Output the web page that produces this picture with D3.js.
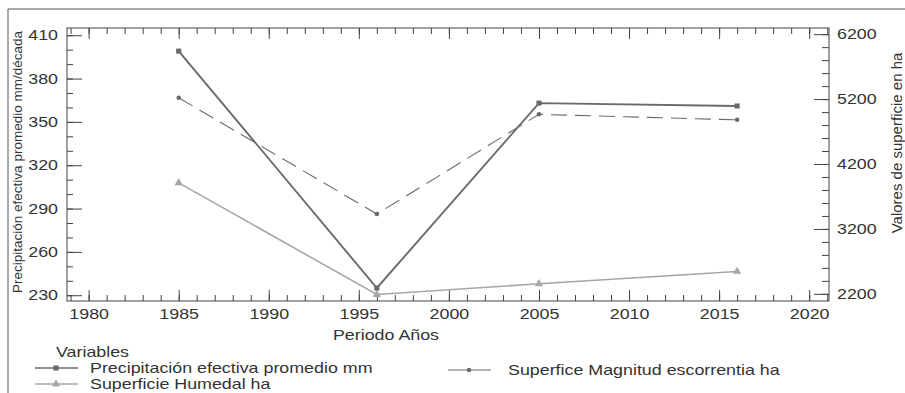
<!DOCTYPE html>
<html>
<head>
<meta charset="utf-8">
<script src="https://cdn.jsdelivr.net/npm/d3@7"></script>
<style>
  body { margin: 0; background: #fff; }
  svg { display: block; font-family: "Liberation Sans", Arial, sans-serif; }
</style>
</head>
<body>
<svg id="vis" width="905" height="393"></svg>
<script>
// data
var years = [1985, 1996, 2005, 2016];
var precip = [399, 235, 363, 361];          // left axis, mm
var escorrentia = [5220, 3430, 4965, 4880]; // right axis, ha
var humedal = [3910, 2190, 2355, 2545];     // right axis, ha

var xTicks = [1980, 1985, 1990, 1995, 2000, 2005, 2010, 2015, 2020];
var leftTicks = [230, 260, 290, 320, 350, 380, 410];
var rightTicks = [2200, 3200, 4200, 5200, 6200];

var legendItems = ["Precipitación efectiva promedio mm", "Superficie Humedal ha", "Superfice Magnitud escorrentia ha"];

var dark = "#6a6a6a", light = "#a6a6a6", txt = "#333";
var fs = "14.5px";

var svg = d3.select("#vis");
var plot = {left: 67, right: 829, top: 28, bottom: 301};

var x = d3.scaleLinear().domain([1978.8, 2021.1]).range([plot.left, plot.right]);
var yL = d3.scaleLinear().domain([226, 415]).range([plot.bottom, plot.top]);
var yR = d3.scaleLinear().domain([2090, 6295]).range([plot.bottom, plot.top]);

// outer frame (top + left)
svg.append("line").attr("x1", 8).attr("x2", 905).attr("y1", 9).attr("y2", 9)
    .attr("stroke", "#555").attr("stroke-width", 1);
svg.append("line").attr("x1", 8).attr("x2", 8).attr("y1", 9).attr("y2", 393)
    .attr("stroke", "#555").attr("stroke-width", 1);

// plot box
svg.append("rect").attr("x", plot.left).attr("y", plot.top)
    .attr("width", plot.right - plot.left).attr("height", plot.bottom - plot.top)
    .attr("fill", "none").attr("stroke", "#444").attr("stroke-width", 1);

function drawAxis(g) {
    g.select(".domain").remove();
    g.selectAll("line").attr("stroke", "#444");
    g.selectAll("text").attr("fill", txt).style("font-size", fs).classed("wide", true);
}

// minor ticks (inside)
var minorYears = d3.range(1979, 2022);
svg.append("g").attr("transform", "translate(0," + plot.bottom + ")")
    .call(d3.axisBottom(x).tickValues(minorYears).tickSize(-6).tickFormat(""))
    .call(drawAxis);
svg.append("g").attr("transform", "translate(0," + plot.top + ")")
    .call(d3.axisTop(x).tickValues(minorYears).tickSize(-6).tickFormat(""))
    .call(drawAxis);
svg.append("g").attr("transform", "translate(" + plot.left + ",0)")
    .call(d3.axisLeft(yL).tickValues(d3.range(230, 415, 10)).tickSize(-6).tickFormat(""))
    .call(drawAxis);
svg.append("g").attr("transform", "translate(" + plot.right + ",0)")
    .call(d3.axisRight(yR).tickValues(d3.range(2200, 6300, 200)).tickSize(-7).tickFormat(""))
    .call(drawAxis);

// major ticks + labels
svg.append("g").attr("transform", "translate(0," + plot.bottom + ")")
    .call(d3.axisBottom(x).tickValues(xTicks).tickSize(-11).tickPadding(8).tickFormat(d3.format("d")))
    .call(drawAxis);
svg.append("g").attr("transform", "translate(0," + plot.top + ")")
    .call(d3.axisTop(x).tickValues(xTicks).tickSize(-11).tickFormat(""))
    .call(drawAxis);
svg.append("g").attr("transform", "translate(" + plot.left + ",0)")
    .call(d3.axisLeft(yL).tickValues(leftTicks).tickSize(-15).tickPadding(9).tickFormat(d3.format("d")))
    .call(drawAxis);
svg.append("g").attr("transform", "translate(" + plot.right + ",0)")
    .call(d3.axisRight(yR).tickValues(rightTicks).tickSize(-15).tickPadding(8).tickFormat(d3.format("d")))
    .call(drawAxis);

// axis titles
svg.append("text").attr("class", "wide").attr("x", 386).attr("y", 340).attr("text-anchor", "middle")
    .attr("fill", txt).style("font-size", fs).text("Periodo Años");
svg.append("text").attr("transform", "translate(22,162) rotate(-90)").attr("text-anchor", "middle")
    .attr("fill", txt).style("font-size", "13.5px").text("Precipitación  efectiva promedio mm/década");
svg.append("text").attr("transform", "translate(902,143) rotate(-90)").attr("text-anchor", "middle")
    .attr("fill", txt).style("font-size", "15px").text("Valores de superficie en ha");

// series
function lineFor(ys) {
    return d3.line().x(function(d, i) { return x(years[i]); }).y(function(d) { return ys(d); });
}

svg.append("path").datum(humedal).attr("d", lineFor(yR))
    .attr("fill", "none").attr("stroke", light).attr("stroke-width", 1.6);
svg.append("path").datum(escorrentia).attr("d", lineFor(yR))
    .attr("fill", "none").attr("stroke", dark).attr("stroke-width", 1.1)
    .attr("stroke-dasharray", "16,8");
svg.append("path").datum(precip).attr("d", lineFor(yL))
    .attr("fill", "none").attr("stroke", dark).attr("stroke-width", 1.9);

var tri = d3.symbol().type(d3.symbolTriangle).size(30);
var sq = d3.symbol().type(d3.symbolSquare).size(26);
var dot = d3.symbol().type(d3.symbolCircle).size(16);

svg.append("g").selectAll("path").data(humedal).enter().append("path")
    .attr("d", tri).attr("fill", light)
    .attr("transform", function(d, i) { return "translate(" + x(years[i]) + "," + yR(d) + ")"; });
svg.append("g").selectAll("path").data(escorrentia).enter().append("path")
    .attr("d", dot).attr("fill", dark)
    .attr("transform", function(d, i) { return "translate(" + x(years[i]) + "," + yR(d) + ")"; });
svg.append("g").selectAll("path").data(precip).enter().append("path")
    .attr("d", sq).attr("fill", dark)
    .attr("transform", function(d, i) { return "translate(" + x(years[i]) + "," + yL(d) + ")"; });

// legend
var legend = svg.append("g");
legend.append("text").attr("class", "wide").attr("x", 56).attr("y", 357).attr("fill", txt)
    .style("font-size", fs).text("Variables");

var legendRows = [
    {x: 35, y: 368, color: dark, sym: sq, w: 1.6, label: legendItems[0]},
    {x: 35, y: 384, color: light, sym: tri, w: 1.6, label: legendItems[1]},
    {x: 448, y: 370, color: dark, sym: dot, w: 1.1, label: legendItems[2]}
];
legendRows.forEach(function(r) {
    legend.append("line").attr("x1", r.x).attr("x2", r.x + 43).attr("y1", r.y).attr("y2", r.y)
        .attr("stroke", r.color).attr("stroke-width", r.w);
    legend.append("path").attr("d", r.sym).attr("fill", r.color)
        .attr("transform", "translate(" + (r.x + 21) + "," + r.y + ")");
    legend.append("text").attr("class", "wide").attr("x", r.x + (r.x < 100 ? 55 : 60)).attr("y", r.y + 5)
        .attr("fill", txt).style("font-size", fs).text(r.label);
});

// the source text is a bit stretched sideways
svg.selectAll("text.wide").each(function() {
    var t = d3.select(this);
    if (!t.text()) return;
    var len = this.getComputedTextLength();
    t.attr("textLength", len * 1.23).attr("lengthAdjust", "spacingAndGlyphs");
});
</script>
</body>
</html>
